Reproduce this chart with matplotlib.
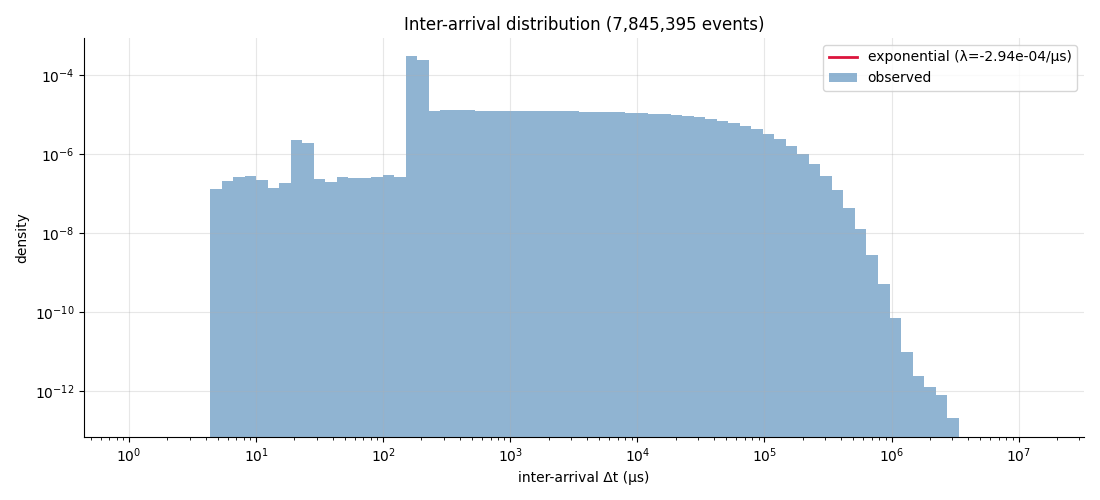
import numpy as np
import matplotlib
matplotlib.use('Agg')
import matplotlib.pyplot as plt
import matplotlib.ticker as ticker

# ========================== DATA ==========================
N_EVENTS = 7845395
LAMBDA = -2.94e-4          # fitted rate, per microsecond

# log-spaced histogram bins (microseconds)
BIN_MIN = 4.34
BIN_MAX = 3.37e6
N_BINS = 65

# observed density per bin
DENSITY = [
    1.34e-7, 2.13e-7, 2.69e-7, 2.84e-7, 2.25e-7, 1.42e-7, 1.90e-7, 2.30e-6,
    1.93e-6, 2.39e-7, 2.01e-7, 2.69e-7, 2.53e-7, 2.53e-7, 2.69e-7, 3.01e-7,
    2.69e-7, 3.01e-4, 2.39e-4, 1.238e-5, 1.312e-5, 1.312e-5, 1.312e-5,
    1.238e-5, 1.238e-5, 1.238e-5, 1.238e-5, 1.238e-5, 1.238e-5, 1.238e-5,
    1.238e-5, 1.238e-5, 1.168e-5, 1.168e-5, 1.168e-5, 1.168e-5, 1.10e-5,
    1.10e-5, 1.04e-5, 1.04e-5, 9.81e-6, 9.26e-6, 8.74e-6, 7.78e-6, 6.92e-6,
    6.17e-6, 5.18e-6, 4.35e-6, 3.26e-6, 2.44e-6, 1.62e-6, 1.02e-6, 5.71e-7,
    2.84e-7, 1.26e-7, 4.44e-8, 1.24e-8, 2.74e-9, 5.08e-10, 7.06e-11,
    9.82e-12, 2.44e-12, 1.29e-12, 8.09e-13, 2.13e-13,
]

# x range of the fitted curve
FIT_X_MIN = 1.0
FIT_X_MAX = 1.43e7
# ==========================================================

BAR_COLOR = 'steelblue'
LINE_COLOR = 'crimson'


def draw():
    edges = np.logspace(np.log10(BIN_MIN), np.log10(BIN_MAX), N_BINS + 1)
    density = np.array(DENSITY)

    fit_x = np.logspace(np.log10(FIT_X_MIN), np.log10(FIT_X_MAX), 400)
    fit_y = LAMBDA * np.exp(-LAMBDA * fit_x)
    fit_y = np.where(fit_y > 0, fit_y, np.nan)   # negative rate -> nothing to draw on log axis

    fig, ax = plt.subplots(figsize=(11, 5), dpi=100)
    fig.subplots_adjust(left=0.0764, right=0.9855, bottom=0.126, top=0.924)

    ax.plot(fit_x, fit_y, '-', color=LINE_COLOR, linewidth=2,
            label=f'exponential (λ={LAMBDA:.2e}/µs)')
    ax.hist(edges[:-1], bins=edges, weights=density, color=BAR_COLOR,
            alpha=0.6, label='observed')

    ax.set_xscale('log')
    ax.set_yscale('log')
    ax.set_xlim(0.443, 3.27e7)
    ax.set_ylim(10 ** -13.16, 10 ** -3.06)
    ax.yaxis.set_major_locator(ticker.LogLocator(base=10, numticks=6))
    ax.yaxis.set_minor_locator(ticker.NullLocator())

    ax.grid(True, which='major', alpha=0.3)
    ax.spines['top'].set_visible(False)
    ax.spines['right'].set_visible(False)

    ax.set_title(f'Inter-arrival distribution ({N_EVENTS:,} events)')
    ax.set_xlabel('inter-arrival Δt (µs)')
    ax.set_ylabel('density')
    ax.legend(loc='upper right')

    fig.savefig('out.png', dpi=100)


if __name__ == '__main__':
    draw()
